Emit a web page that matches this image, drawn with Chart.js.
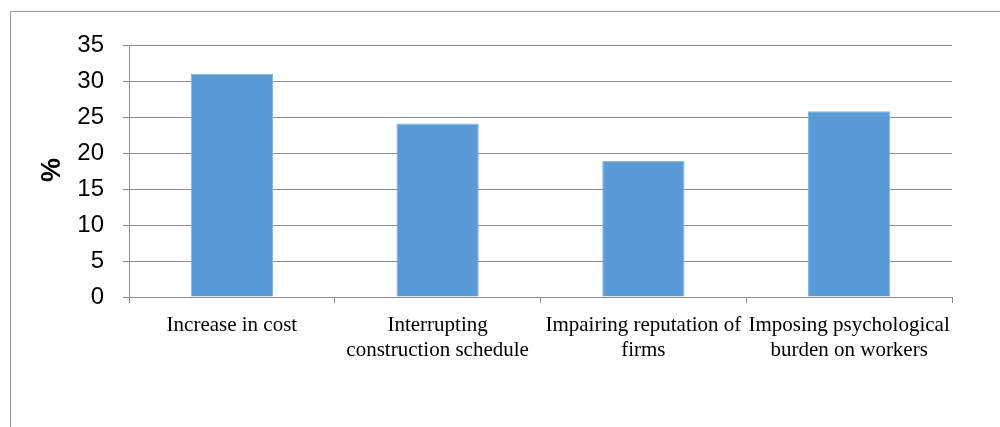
<!DOCTYPE html>
<html>
<head>
<meta charset="utf-8">
<script src="https://cdn.jsdelivr.net/npm/chart.js@4/dist/chart.umd.min.js"></script>
<style>
  html, body { margin: 0; padding: 0; background: #fff; }
  #wrap { position: relative; width: 1000px; height: 427px; }
</style>
</head>
<body>
<div id="wrap"><canvas id="c" width="1000" height="427"></canvas></div>
<script>
// Share of respondents per consequence (%)
const categories = [
  ['Increase in cost'],
  ['Interrupting', 'construction schedule'],
  ['Impairing reputation of', 'firms'],
  ['Imposing psychological', 'burden on workers']
];
const percentages = [31.0, 24.1, 18.9, 25.8];
const yTicks = [0, 5, 10, 15, 20, 25, 30, 35];
const yAxisTitle = '%';

// Frame lines along the top and left edges, plus the rotated axis title
const framePlugin = {
  id: 'frame',
  beforeDraw(chart) {
    const ctx = chart.ctx;
    ctx.save();
    ctx.strokeStyle = '#9a9a9a';
    ctx.lineWidth = 1;
    ctx.beginPath();
    ctx.moveTo(10.5, 427);
    ctx.lineTo(10.5, 11.5);
    ctx.lineTo(1000, 11.5);
    ctx.stroke();
    ctx.restore();
  },
  afterDraw(chart) {
    const ctx = chart.ctx;
    ctx.save();
    ctx.translate(53, 170);
    ctx.rotate(-Math.PI / 2);
    ctx.font = 'bold 27px "Liberation Sans", Arial, sans-serif';
    ctx.fillStyle = '#000';
    ctx.textAlign = 'center';
    ctx.textBaseline = 'middle';
    ctx.fillText(yAxisTitle, 0, 0);
    ctx.restore();
  }
};

new Chart(document.getElementById('c'), {
  type: 'bar',
  data: {
    labels: categories,
    datasets: [{
      data: percentages,
      backgroundColor: '#5B9BD5',
      borderColor: '#86B5E1',
      borderWidth: 1,
      barPercentage: 0.8,
      categoryPercentage: 0.5
    }]
  },
  options: {
    responsive: false,
    animation: false,
    devicePixelRatio: 1,
    layout: { padding: { left: 0, right: 48, top: 45, bottom: 0 } },
    plugins: { legend: { display: false }, tooltip: { enabled: false } },
    scales: {
      x: {
        grid: { offset: true, drawOnChartArea: false, drawTicks: true, tickLength: 6, color: '#8c8c8c' },
        border: { color: '#8c8c8c' },
        ticks: {
          color: '#000',
          font: { family: '"Liberation Serif", "Times New Roman", serif', size: 21, lineHeight: 1.2 },
          padding: 10,
          maxRotation: 0,
          autoSkip: false
        },
        afterFit(scale) { scale.height = 130; }
      },
      y: {
        min: 0,
        max: 35,
        afterBuildTicks(scale) { scale.ticks = yTicks.map(v => ({ value: v })); },
        grid: { color: '#8c8c8c', tickLength: 6 },
        border: { color: '#8c8c8c' },
        ticks: {
          color: '#000',
          font: { family: '"Liberation Sans", Arial, sans-serif', size: 24 },
          padding: 19
        },
        afterFit(scale) { scale.width = 129; }
      }
    }
  },
  plugins: [framePlugin]
});
</script>
</body>
</html>
